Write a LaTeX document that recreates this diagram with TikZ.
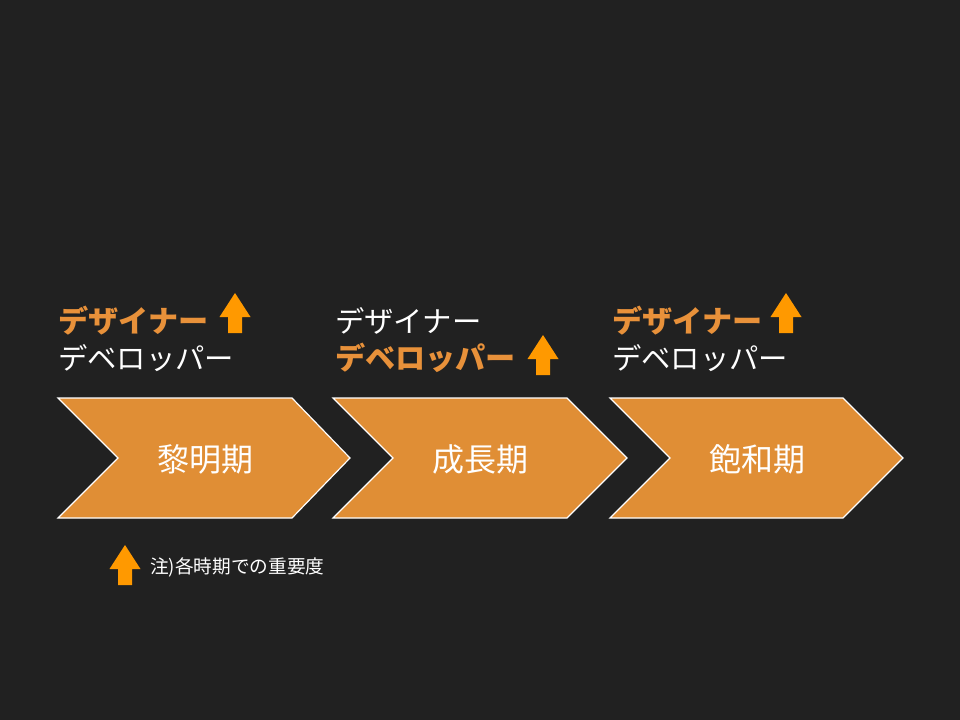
\documentclass[tikz,border=0pt]{standalone}
\usepackage{fontspec}
\setmainfont{Noto Sans CJK JP}
\definecolor{bgdark}{HTML}{212121}
\definecolor{chevfill}{HTML}{E08E35}
\definecolor{hilite}{HTML}{E8913A}
\definecolor{arrowfill}{HTML}{FF9900}
\tikzset{
  chev/.style={fill=chevfill, draw=white, line width=0.9pt, line join=miter},
  phase/.style={text=white, font=\fontsize{24}{27}\selectfont, inner sep=0pt},
  role/.style={anchor=west, text=white, font=\fontsize{22}{25}\selectfont, inner sep=0pt},
  keyrole/.style={role, text=hilite, font=\fontsize{22.6}{25}\selectfont\bfseries},
  note/.style={anchor=west, text=white, font=\fontsize{14}{16}\selectfont, inner sep=0pt},
  uparrow/.pic={
    \fill[arrowfill] (-7,20) -- (-7,4) -- (-15.5,4) -- (0,-20) -- (15.5,4) -- (7,4) -- (7,20) -- cycle;
  },
}
\begin{document}
\begin{tikzpicture}[x=0.75pt, y=-0.75pt]

% Background
\fill[bgdark] (0,0) rectangle (960,720);
\useasboundingbox (0,0) rectangle (960,720);

% Phases
\draw[chev] (58,398) -- (292,398) -- (350,458) -- (292,518) -- (58,518) -- (118,458) -- cycle;
\draw[chev] (333,398) -- (567,398) -- (627,458) -- (567,518) -- (333,518) -- (393,458) -- cycle;
\draw[chev] (610,398) -- (843,398) -- (903,458) -- (843,518) -- (610,518) -- (670,458) -- cycle;
\node[phase] (dawn)   at (205,459) {黎明期};
\node[phase] (growth) at (480,459) {成長期};
\node[phase] (mature) at (757,459) {飽和期};

% Roles per phase
\node[keyrole] (des1) at (58,321)  {デザイナー};
\node[role]    (dev1) at (58,358)  {デベロッパー};
\node[role]    (des2) at (335,321) {デザイナー};
\node[keyrole] (dev2) at (335,358) {デベロッパー};
\node[keyrole] (des3) at (612,321) {デザイナー};
\node[role]    (dev3) at (612,358) {デベロッパー};

% Importance marks
\pic at (235,313) {uparrow};
\pic at (543,355) {uparrow};
\pic at (786,313) {uparrow};

% Legend
\pic at (125,565) {uparrow};
\node[note] (keynote) at (150,567) {注)各時期での重要度};

\end{tikzpicture}
\end{document}
